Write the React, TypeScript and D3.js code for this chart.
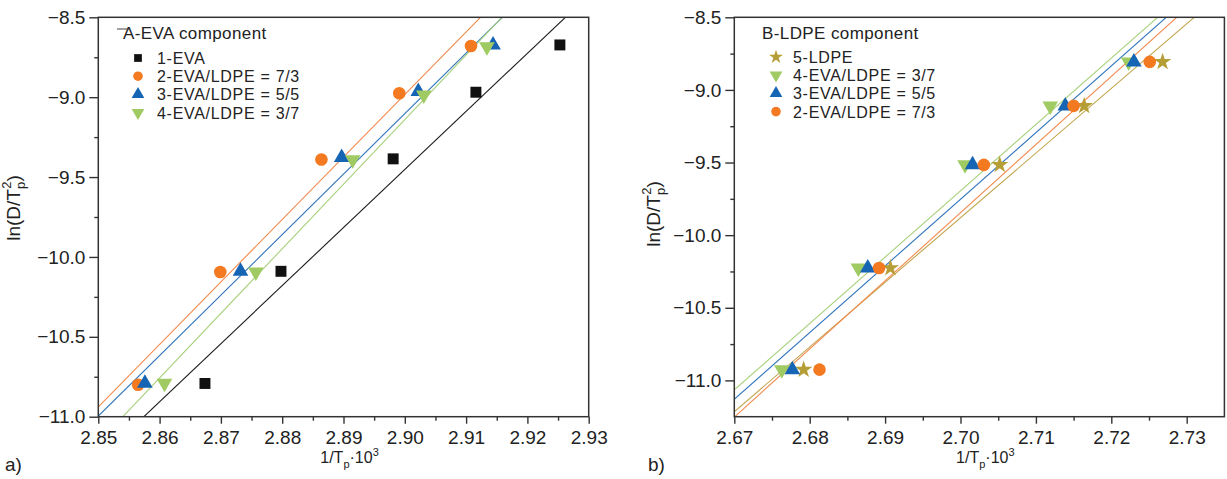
import React, { useEffect, useRef } from "react";
import * as d3 from "d3";

const W = 1227;
const H = 479;

// ---------- Panel A (EVA component) ----------
const aTitle = "A-EVA component";
const aNames = ["1-EVA", "2-EVA/LDPE = 7/3", "3-EVA/LDPE = 5/5", "4-EVA/LDPE = 3/7"];
const aEvaX = [2.8674, 2.8798, 2.8981, 2.9116, 2.9253];
const aEvaY = [-10.792, -10.09, -9.386, -8.969, -8.673];
const a73X = [2.8565, 2.8699, 2.8864, 2.8991, 2.9108];
const a73Y = [-10.8, -10.094, -9.39, -8.975, -8.68];
const a55X = [2.8576, 2.8732, 2.8897, 2.9022, 2.9144];
const a55Y = [-10.79, -10.09, -9.378, -8.965, -8.673];
const a37X = [2.8608, 2.8757, 2.8915, 2.9031, 2.9134];
const a37Y = [-10.79, -10.094, -9.392, -8.986, -8.684];
const aXDomain = [2.85, 2.93];
const aYDomain = [-11, -8.5];
const aXTicks = [2.85, 2.86, 2.87, 2.88, 2.89, 2.9, 2.91, 2.92, 2.93];
const aXMinor = [2.855, 2.865, 2.875, 2.885, 2.895, 2.905, 2.915, 2.925];
const aYTicks = [-11, -10.5, -10, -9.5, -9, -8.5];
const aYMinor = [-10.75, -10.25, -9.75, -9.25, -8.75];

// ---------- Panel B (LDPE component) ----------
const bTitle = "B-LDPE component";
const bNames = ["5-LDPE", "4-EVA/LDPE = 3/7", "3-EVA/LDPE = 5/5", "2-EVA/LDPE = 7/3"];
const bLdpeX = [2.6792, 2.6907, 2.7052, 2.7164, 2.7268];
const bLdpeY = [-10.926, -10.226, -9.516, -9.11, -8.807];
const b37X = [2.6763, 2.68645, 2.7006, 2.7119, 2.7223];
const b37Y = [-10.926, -10.226, -9.516, -9.11, -8.807];
const b55X = [2.6777, 2.6877, 2.7016, 2.7139, 2.723];
const b55Y = [-10.926, -10.226, -9.516, -9.11, -8.807];
const b73X = [2.6813, 2.6892, 2.7031, 2.715, 2.7251];
const b73Y = [-10.926, -10.226, -9.516, -9.11, -8.807];
const bXDomain = [2.67, 2.735];
const bYDomain = [-11.25, -8.5];
const bXTicks = [2.67, 2.68, 2.69, 2.7, 2.71, 2.72, 2.73];
const bXMinor = [2.675, 2.685, 2.695, 2.705, 2.715, 2.725];
const bYTicks = [-11, -10.5, -10, -9.5, -9, -8.5];
const bYMinor = [-10.75, -10.25, -9.75, -9.25, -8.75];

const C = {
  black: "#111111",
  orange: "#F47A22",
  blue: "#1664B4",
  green: "#9FCB62",
  gold: "#B59E35",
};
const LC = {
  black: "#1a1a1a",
  orange: "#F28A4E",
  blue: "#2F74BC",
  green: "#A8D07C",
  gold: "#C2A64E",
};

const FONT = "'Liberation Sans', Arial, Helvetica, sans-serif";
const TXT = "#222";

type Series = { name: string; xs: number[]; ys: number[]; shape: string; color: string; line: string };

function fit(xs: number[], ys: number[]) {
  const mx = d3.mean(xs) as number;
  const my = d3.mean(ys) as number;
  let sxy = 0;
  let sxx = 0;
  xs.forEach((x, i) => {
    sxy += (x - mx) * (ys[i] - my);
    sxx += (x - mx) * (x - mx);
  });
  const slope = sxy / sxx;
  return (x: number) => my + slope * (x - mx);
}

function symbolPath(shape: string, size: number) {
  const t =
    shape === "square"
      ? d3.symbolSquare
      : shape === "circle"
      ? d3.symbolCircle
      : shape === "star"
      ? d3.symbolStar
      : d3.symbolTriangle;
  return d3.symbol().type(t).size(size)() as string;
}

const MARK_SIZE: Record<string, number> = { square: 120, circle: 125, up: 105, down: 105, star: 95 };
const LEG_SIZE: Record<string, number> = { square: 60, circle: 72, up: 70, down: 70, star: 60 };

function drawPanel(
  svg: d3.Selection<SVGSVGElement, unknown, null, undefined>,
  opt: {
    id: string;
    x0: number;
    x1: number;
    y0: number;
    y1: number;
    xDomain: number[];
    yDomain: number[];
    xTicks: number[];
    xMinor: number[];
    yTicks: number[];
    yMinor: number[];
    series: Series[];
    drawOrder: number[];
    title: string;
    legX: number;
    legMarkX: number;
    legTextX: number;
    titleY: number;
    rowY0: number;
    rowDy: number;
    ylabX: number;
    ylabY: number;
    panelLabel: string;
    panelLabelX: number;
  }
) {
  const x = d3.scaleLinear().domain(opt.xDomain).range([opt.x0, opt.x1]);
  const y = d3.scaleLinear().domain(opt.yDomain).range([opt.y1, opt.y0]);
  const g = svg.append("g");

  g.append("clipPath")
    .attr("id", "clip-" + opt.id)
    .append("rect")
    .attr("x", opt.x0)
    .attr("y", opt.y0)
    .attr("width", opt.x1 - opt.x0)
    .attr("height", opt.y1 - opt.y0);

  // regression lines
  const lineGen = d3
    .line<[number, number]>()
    .x((d) => x(d[0]))
    .y((d) => y(d[1]));
  const lg = g.append("g").attr("clip-path", `url(#clip-${opt.id})`);
  opt.series.forEach((s) => {
    const f = fit(s.xs, s.ys);
    const pts: [number, number][] = [
      [opt.xDomain[0] - 0.01, f(opt.xDomain[0] - 0.01)],
      [opt.xDomain[1] + 0.01, f(opt.xDomain[1] + 0.01)],
    ];
    lg.append("path")
      .attr("d", lineGen(pts) as string)
      .attr("fill", "none")
      .attr("stroke", s.line)
      .attr("stroke-width", 1.1);
  });

  // points
  opt.drawOrder.forEach((idx) => {
    const s = opt.series[idx];
    const p = symbolPath(s.shape, MARK_SIZE[s.shape]);
    s.xs.forEach((xv, i) => {
      g.append("path")
        .attr("d", p)
        .attr(
          "transform",
          `translate(${x(xv)},${y(s.ys[i])})${s.shape === "down" ? " rotate(180)" : ""}`
        )
        .attr("fill", s.color);
    });
  });

  // axes
  const axStyle = (sel: d3.Selection<SVGGElement, unknown, null, undefined>) => {
    sel.select(".domain").remove();
    sel.selectAll("line").attr("stroke", "#333").attr("stroke-width", 1.4);
    sel.selectAll("text").attr("font-family", FONT).attr("font-size", 19).attr("fill", TXT);
  };
  const xMaj = g
    .append("g")
    .attr("transform", `translate(0,${opt.y1})`)
    .call(
      d3
        .axisBottom(x)
        .tickValues(opt.xTicks)
        .tickSize(7)
        .tickPadding(7)
        .tickFormat((d) => d3.format(".2f")(d as number))
    );
  axStyle(xMaj);
  const xMin = g
    .append("g")
    .attr("transform", `translate(0,${opt.y1})`)
    .call(d3.axisBottom(x).tickValues(opt.xMinor).tickSize(4).tickFormat(() => ""));
  axStyle(xMin);
  const yMaj = g
    .append("g")
    .attr("transform", `translate(${opt.x0},0)`)
    .call(
      d3
        .axisLeft(y)
        .tickValues(opt.yTicks)
        .tickSize(9)
        .tickPadding(4)
        .tickFormat((d) => d3.format(".1f")(d as number))
    );
  axStyle(yMaj);
  const yMin = g
    .append("g")
    .attr("transform", `translate(${opt.x0},0)`)
    .call(d3.axisLeft(y).tickValues(opt.yMinor).tickSize(4).tickFormat(() => ""));
  axStyle(yMin);

  // frame
  g.append("rect")
    .attr("x", opt.x0)
    .attr("y", opt.y0)
    .attr("width", opt.x1 - opt.x0)
    .attr("height", opt.y1 - opt.y0)
    .attr("fill", "none")
    .attr("stroke", "#333")
    .attr("stroke-width", 1.5);

  // legend
  g.append("text")
    .attr("x", opt.legX)
    .attr("y", opt.titleY)
    .attr("font-family", FONT)
    .attr("font-size", 17)
    .attr("letter-spacing", 0.4)
    .attr("fill", TXT)
    .text(opt.title);
  opt.series.forEach((s, i) => {
    const yy = opt.rowY0 + i * opt.rowDy;
    g.append("path")
      .attr("d", symbolPath(s.shape, LEG_SIZE[s.shape]))
      .attr("transform", `translate(${opt.legMarkX},${yy - 6})${s.shape === "down" ? " rotate(180)" : ""}`)
      .attr("fill", s.color);
    g.append("text")
      .attr("x", opt.legTextX)
      .attr("y", yy)
      .attr("font-family", FONT)
      .attr("font-size", 16)
      .attr("letter-spacing", 0.7)
      .attr("fill", TXT)
      .text(s.name);
  });

  // y label
  const yl = g
    .append("text")
    .attr("transform", `translate(${opt.ylabX},${opt.ylabY}) rotate(-90)`)
    .attr("text-anchor", "middle")
    .attr("font-family", FONT)
    .attr("font-size", 19)
    .attr("fill", TXT);
  yl.append("tspan").text("ln(D/T");
  yl.append("tspan").attr("dy", 5).attr("font-size", 13).text("p");
  yl.append("tspan").attr("dx", -7).attr("dy", -14).attr("font-size", 13).text("2");
  yl.append("tspan").attr("dy", 9).text(")");

  // x label
  const xl = g
    .append("text")
    .attr("x", (opt.x0 + opt.x1) / 2 + 6)
    .attr("y", 463)
    .attr("text-anchor", "middle")
    .attr("font-family", FONT)
    .attr("font-size", 16)
    .attr("fill", TXT);
  xl.append("tspan").text("1/T");
  xl.append("tspan").attr("dy", 5).attr("font-size", 11).text("p");
  xl.append("tspan").attr("dy", -5).text("\u00B710");
  xl.append("tspan").attr("dy", -7).attr("font-size", 11).text("3");

  // panel label
  g.append("text")
    .attr("x", opt.panelLabelX)
    .attr("y", 471)
    .attr("font-family", FONT)
    .attr("font-size", 19)
    .attr("fill", TXT)
    .text(opt.panelLabel);
}

export default function App() {
  const ref = useRef<SVGSVGElement>(null);
  useEffect(() => {
    const svg = d3.select(ref.current as SVGSVGElement);
    svg.selectAll("*").remove();

    const aSeries: Series[] = [
      { name: aNames[0], xs: aEvaX, ys: aEvaY, shape: "square", color: C.black, line: LC.black },
      { name: aNames[1], xs: a73X, ys: a73Y, shape: "circle", color: C.orange, line: LC.orange },
      { name: aNames[2], xs: a55X, ys: a55Y, shape: "up", color: C.blue, line: LC.blue },
      { name: aNames[3], xs: a37X, ys: a37Y, shape: "down", color: C.green, line: LC.green },
    ];
    const bSeries: Series[] = [
      { name: bNames[0], xs: bLdpeX, ys: bLdpeY, shape: "star", color: C.gold, line: LC.gold },
      { name: bNames[1], xs: b37X, ys: b37Y, shape: "down", color: C.green, line: LC.green },
      { name: bNames[2], xs: b55X, ys: b55Y, shape: "up", color: C.blue, line: LC.blue },
      { name: bNames[3], xs: b73X, ys: b73Y, shape: "circle", color: C.orange, line: LC.orange },
    ];

    drawPanel(svg, {
      id: "a",
      x0: 98.3,
      x1: 588.7,
      y0: 17.3,
      y1: 416.7,
      xDomain: aXDomain,
      yDomain: aYDomain,
      xTicks: aXTicks,
      xMinor: aXMinor,
      yTicks: aYTicks,
      yMinor: aYMinor,
      series: aSeries,
      drawOrder: [0, 1, 2, 3],
      title: aTitle,
      legX: 123,
      legMarkX: 138,
      legTextX: 157,
      titleY: 39,
      rowY0: 64,
      rowDy: 18.2,
      ylabX: 20,
      ylabY: 208,
      panelLabel: "a)",
      panelLabelX: 5,
    });
    svg
      .append("line")
      .attr("x1", 117)
      .attr("x2", 129)
      .attr("y1", 29)
      .attr("y2", 29)
      .attr("stroke", "#444")
      .attr("stroke-width", 1);

    drawPanel(svg, {
      id: "b",
      x0: 734.3,
      x1: 1224.4,
      y0: 17.3,
      y1: 416.7,
      xDomain: bXDomain,
      yDomain: bYDomain,
      xTicks: bXTicks,
      xMinor: bXMinor,
      yTicks: bYTicks,
      yMinor: bYMinor,
      series: bSeries,
      drawOrder: [0, 1, 2, 3],
      title: bTitle,
      legX: 762,
      legMarkX: 776,
      legTextX: 793,
      titleY: 39,
      rowY0: 63,
      rowDy: 18.2,
      ylabX: 660,
      ylabY: 214,
      panelLabel: "b)",
      panelLabelX: 648,
    });
  }, []);

  return (
    <svg
      ref={ref}
      width={W}
      height={H}
      style={{ position: "absolute", left: 0, top: 0, background: "#fff" }}
    />
  );
}
